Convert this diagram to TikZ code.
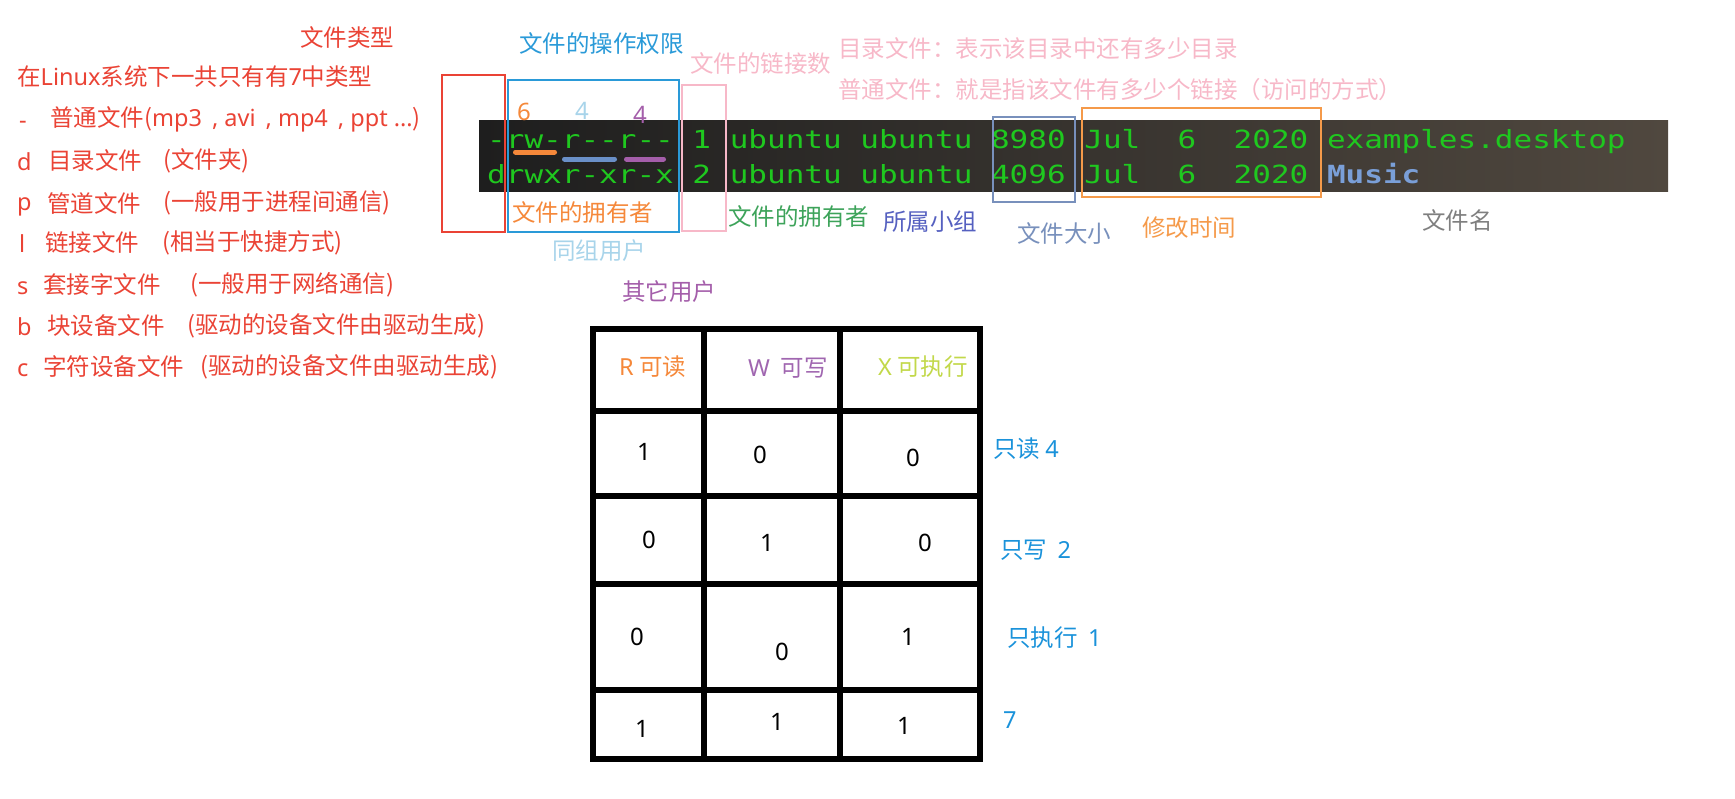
\documentclass[tikz,border=0pt]{standalone}
\usepackage{fontspec}
\setmainfont{Noto Sans CJK SC}
\newfontfamily\latinfont{Noto Sans}
\newcommand\wtext[1]{{\latinfont #1}}
\setmonofont{DejaVu Sans Mono}[FakeStretch=1.24]

\definecolor{typered}{HTML}{EA4335}
\definecolor{permblue}{HTML}{2A9AD8}
\definecolor{linkpink}{HTML}{F7B8C8}
\definecolor{ownorange}{HTML}{F5883A}
\definecolor{grpblue}{HTML}{A8D4EA}
\definecolor{othpurple}{HTML}{A45EAA}
\definecolor{ownergreen}{HTML}{3DA35A}
\definecolor{groupblue}{HTML}{5560C0}
\definecolor{sizeblue}{HTML}{7890BC}
\definecolor{timeorange}{HTML}{F59A4A}
\definecolor{namegray}{HTML}{7F7F7F}
\definecolor{termgreen}{HTML}{1FC81F}
\definecolor{musicblue}{HTML}{7A9FD8}
\definecolor{barblue}{HTML}{6A90C8}
\definecolor{wpurple}{HTML}{A066B0}
\definecolor{xgreen}{HTML}{C2D84A}
\definecolor{valblue}{HTML}{1A92DA}
\definecolor{termdark}{HTML}{1E1E1E}
\definecolor{termphoto}{HTML}{50483F}

\tikzset{
    lbl/.style={anchor=west, inner sep=0pt, font=\fontsize{23.5}{28}\selectfont,
        execute at begin node={\vphantom{文}}},
    frame/.style={draw, line width=1.5pt},
    bar/.style={line width=5pt, line cap=round},
    grid/.style={line width=6pt},
    digit/.style={inner sep=0pt, font=\latinfont\fontsize{24}{30}\selectfont},
    term/.style={anchor=base west, inner sep=0pt, text=termgreen,
        font=\ttfamily\fontsize{25}{30}\selectfont},
}

\begin{document}
\begin{tikzpicture}[x=1pt, y=-1pt]
    \useasboundingbox (0,0) rectangle (1735,798);

    % file types
    \node [lbl, text=typered] (typetitle) at (300,37) {文件类型};
    \begin{scope}[every node/.append style={lbl, text=typered}]
        \node (typeall) at (17,77) {在\wtext{Linux}系统下一共只有有\wtext{7}中类型};
        \node (k1) at (19,119) {\wtext{-}};  \node (n1) at (50,119) {普通文件(\wtext{mp3\,\ ,\ avi\,\ ,\ mp4\,\ ,\ ppt\ ...})};
        \node (k2) at (17,161) {\wtext{d}};  \node (n2) at (48,161) {目录文件};     \node (p2) at (163,161) {(文件夹)};
        \node (k3) at (17,203) {\wtext{p}};  \node (n3) at (47,203) {管道文件};     \node (p3) at (163,203) {(一般用于进程间通信)};
        \node (k4) at (19,243) {\wtext{l}};  \node (n4) at (45,243) {链接文件};     \node (p4) at (162,243) {(相当于快捷方式)};
        \node (k5) at (17,285) {\wtext{s}};  \node (n5) at (43,285) {套接字文件};   \node (p5) at (190,285) {(一般用于网络通信)};
        \node (k6) at (17,326) {\wtext{b}};  \node (n6) at (47,326) {块设备文件};   \node (p6) at (187,326) {(驱动的设备文件由驱动生成)};
        \node (k7) at (17,367) {\wtext{c}};  \node (n7) at (43,367) {字符设备文件}; \node (p7) at (200,367) {(驱动的设备文件由驱动生成)};
    \end{scope}

    % terminal listing
    \shade [left color=termdark, middle color=termdark!90!termphoto, right color=termphoto]
        (479,120) rectangle (1668,191);
    \node [term] (line1) at (487,148) {-rw-r--r-- 1 ubuntu ubuntu 8980 Jul~~6~~2020 examples.desktop};
    \node [term] (line2) at (487,183) {drwxr-xr-x 2 ubuntu ubuntu 4096 Jul~~6~~2020 \textcolor{musicblue}{\bfseries Music}};

    % boxes round the columns
    \draw [frame, typered] (442,75) rectangle (505,232);
    \draw [frame, permblue] (508,80) rectangle (679,232);
    \draw [frame, linkpink] (682,85) rectangle (726,231);
    \draw [frame, sizeblue] (993,117) rectangle (1075,202);
    \draw [frame, timeorange] (1082,108) rectangle (1321,197);

    % owner / group / other
    \node [digit, text=ownorange] (uval) at (524,112) {6};
    \node [digit, text=grpblue] (gval) at (582,111) {4};
    \node [digit, text=othpurple] (oval) at (640,115) {4};
    \draw [bar, ownorange] (515.5,152) -- (554.5,152);
    \draw [bar, barblue] (564.5,159) -- (614.5,159);
    \draw [bar, othpurple] (626.5,159) -- (663.5,159);

    % labels
    \node [lbl, text=permblue] (perm) at (519,44) {文件的操作权限};
    \node [lbl, text=linkpink] (links) at (690,64) {文件的链接数};
    \node [lbl, text=linkpink] (dirnote) at (838,49) {目录文件：表示该目录中还有多少目录};
    \node [lbl, text=linkpink] (filenote) at (838,90) {普通文件：就是指该文件有多少个链接（访问的方式）};
    \node [lbl, text=ownorange] (owner) at (512,212) {文件的拥有者};
    \node [lbl, text=grpblue] (grp) at (552,251) {同组用户};
    \node [lbl, text=othpurple] (oth) at (622,292) {其它用户};
    \node [lbl, text=ownergreen] (user) at (728,216) {文件的拥有者};
    \node [lbl, text=groupblue] (group) at (883,222) {所属小组};
    \node [lbl, text=sizeblue] (size) at (1017,233) {文件大小};
    \node [lbl, text=timeorange] (mtime) at (1142,228) {修改时间};
    \node [lbl, text=namegray] (fname) at (1422,220) {文件名};

    % rwx table
    \draw [grid] (593,329) rectangle (980,759);
    \foreach \x in {704,840}
        \draw [grid] (\x,329) -- (\x,759);
    \foreach \y in {411,496,584,690}
        \draw [grid] (593,\y) -- (980,\y);
    \node [lbl, text=ownorange] (hr) at (619,367) {\wtext{R} 可读};
    \node [lbl, text=wpurple] (hw) at (748,367) {\wtext{W}~~可写};
    \node [lbl, text=xgreen] (hx) at (878,367) {\wtext{X} 可执行};
    \foreach \x/\y/\v [count=\i] in {644/452/1, 760/455/0, 913/458/0,
                                     649/540/0, 767/543/1, 925/543/0,
                                     637/637/0, 782/652/0, 908/637/1,
                                     642/729/1, 777/722/1, 904/726/1}
        \node [digit] (bit\i) at (\x,\y) {\v};
    \node [lbl, text=valblue] (ronly) at (993,449) {只读 \wtext{4}};
    \node [lbl, text=valblue] (wonly) at (1000,550) {只写~~\wtext{2}};
    \node [lbl, text=valblue] (xonly) at (1007,638) {只执行~~\wtext{1}};
    \node [lbl, text=valblue] (all) at (1003,719) {\wtext{7}};
\end{tikzpicture}
\end{document}
